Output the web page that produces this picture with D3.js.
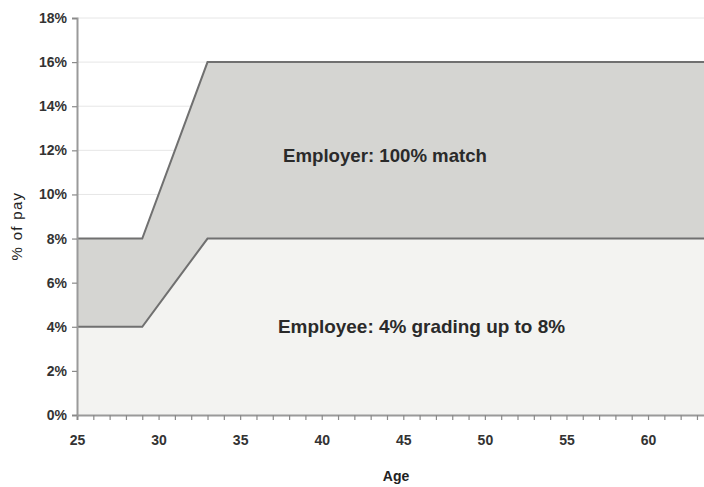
<!DOCTYPE html>
<html>
<head>
<meta charset="utf-8">
<script src="https://cdn.jsdelivr.net/npm/d3@7"></script>
<style>
  html, body { margin: 0; padding: 0; background: #fff; }
  svg text { font-family: "Liberation Sans Narrow", "Liberation Sans", Arial, sans-serif; }
</style>
</head>
<body>
<svg id="chart" width="704" height="487"></svg>
<script>
// Contribution rates by age (% of pay)
const ages = [25, 29, 31, 33, 65];
const employeeRate = [4, 4, 6, 8, 8];
const employerRate = [4, 4, 6, 8, 8];
const yTicks = [0, 2, 4, 6, 8, 10, 12, 14, 16, 18];
const xLabelTicks = [25, 30, 35, 40, 45, 50, 55, 60];
const labels = ["Employee: 4% grading up to 8%", "Employer: 100% match"];

const svg = d3.select("#chart");
const x = d3.scaleLinear().domain([25, 65]).range([77, 729.6]);
const y = d3.scaleLinear().domain([0, 18]).range([415, 18]);

const rows = ages.map((a, i) => ({ age: a, employee: employeeRate[i], employer: employerRate[i] }));
const stack = d3.stack().keys(["employee", "employer"])(rows);

// faint horizontal gridlines
svg.append("g").selectAll("line").data(yTicks.filter(d => d > 0)).join("line")
  .attr("x1", x(25)).attr("x2", 704)
  .attr("y1", d => y(d)).attr("y2", d => y(d))
  .attr("stroke", "#e6e6e6").attr("stroke-width", 1);

const fills = ["#f3f3f1", "#d5d5d2"];
const area = d3.area().x(d => x(d.data.age)).y0(d => y(d[0])).y1(d => y(d[1]));
const topLine = d3.line().x(d => x(d.data.age)).y(d => y(d[1]));

svg.append("g").selectAll("path").data(stack).join("path")
  .attr("d", area).attr("fill", (d, i) => fills[i]);

svg.append("g").selectAll("path").data(stack).join("path")
  .attr("d", topLine).attr("fill", "none")
  .attr("stroke", "#707070").attr("stroke-width", 2);

// axes
const xAxis = d3.axisBottom(x).tickValues(d3.range(25, 65, 1)).tickSize(5)
  .tickFormat(d => xLabelTicks.includes(d) ? d : "");
const gx = svg.append("g").attr("transform", `translate(0,${y(0)})`).call(xAxis);
gx.select(".domain").attr("stroke", "#9a9a9a").attr("stroke-width", 2);
gx.selectAll(".tick line").attr("stroke", "#8a8a8a").attr("stroke-width", 1.2);
gx.selectAll(".tick text").attr("dy", "1.55em").attr("font-size", 14).attr("font-weight", "bold").attr("fill", "#333");

const yAxis = d3.axisLeft(y).tickValues(yTicks).tickSize(5).tickFormat(d => d + "%");
const gy = svg.append("g").attr("transform", `translate(${x(25)},0)`).call(yAxis);
gy.select(".domain").attr("stroke", "#9a9a9a").attr("stroke-width", 2);
gy.selectAll(".tick line").attr("stroke", "#8a8a8a").attr("stroke-width", 1.2);
gy.selectAll(".tick text").attr("x", -10).attr("font-size", 14).attr("font-weight", "bold").attr("fill", "#333");

// axis titles
svg.append("text").attr("x", 396).attr("y", 481).attr("text-anchor", "middle")
  .attr("font-size", 14).attr("font-weight", "bold").attr("fill", "#222").text("Age");
svg.append("text").attr("transform", "translate(22,226) rotate(-90)").attr("text-anchor", "middle")
  .attr("font-size", 15).attr("letter-spacing", 1.3).attr("fill", "#222").text("% of pay");

// series labels
svg.append("text").attr("x", 278).attr("y", 333)
  .attr("font-size", 19).attr("font-weight", "bold").attr("fill", "#2a2a2a")
  .attr("textLength", 287).attr("lengthAdjust", "spacingAndGlyphs").text(labels[0]);
svg.append("text").attr("x", 283).attr("y", 162)
  .attr("font-size", 19).attr("font-weight", "bold").attr("fill", "#2a2a2a")
  .attr("textLength", 204).attr("lengthAdjust", "spacingAndGlyphs").text(labels[1]);
</script>
</body>
</html>
